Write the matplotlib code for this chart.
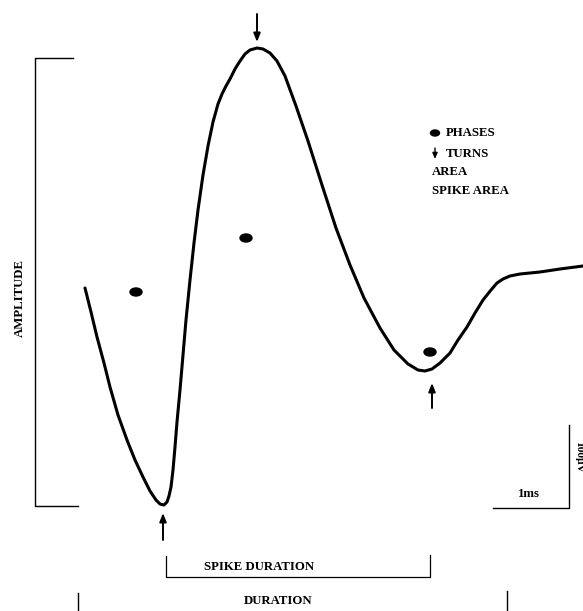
import matplotlib
matplotlib.use("Agg")
import matplotlib.pyplot as plt
from matplotlib.patches import Ellipse

# Motor unit action potential trace (x: time-ish position, y: screen height, downward)
trace_x = [85, 91, 97, 104, 110, 118, 127, 135, 143, 150, 156, 160, 164, 167, 169, 171,
           173, 175, 177, 180, 183, 186, 190, 194, 198, 203, 208, 213, 218, 222, 226,
           230, 235, 240, 245, 250, 257, 263, 270, 277, 285, 296, 308, 322, 336, 350,
           364, 380, 394, 408, 418, 425, 432, 440, 450, 458, 467, 475, 483, 491, 497,
           503, 510, 520, 540, 560, 583]
trace_y = [288, 312, 337, 363, 387, 415, 440, 460, 477, 491, 500, 504, 505, 502, 496, 487,
           470, 447, 422, 390, 355, 320, 280, 243, 210, 175, 146, 122, 104, 94, 86,
           79, 69, 61, 54, 50, 48, 49, 53, 61, 76, 106, 141, 185, 228, 265,
           298, 328, 350, 364, 370, 371, 369, 363, 353, 340, 327, 313, 300, 290, 283,
           279, 276, 274, 272, 269, 266]

# Phase markers
phase_x = [136, 246, 430]
phase_y = [292, 238, 352]

# Turn arrows: (x, tail_y, head_y)
turn_x = [257, 163, 432]
turn_tail = [14, 540, 408]
turn_head = [42, 513, 383]

legend_labels = ["PHASES", "TURNS", "AREA", "SPIKE AREA"]

W, H = 583, 611
fig = plt.figure(figsize=(W / 100, H / 100), dpi=100)
ax = fig.add_axes([0, 0, 1, 1])
ax.set_xlim(0, W)
ax.set_ylim(H, 0)
ax.axis("off")

serif = ["Liberation Serif", "DejaVu Serif"]
fs = 9.2

ax.plot(trace_x, trace_y, color="black", lw=2.2, solid_capstyle="round",
        solid_joinstyle="round")

for x, y in zip(phase_x, phase_y):
    ax.add_patch(Ellipse((x, y), 12, 8, color="black"))

for x, t, h in zip(turn_x, turn_tail, turn_head):
    ax.annotate("", xy=(x, h), xytext=(x, t),
                arrowprops=dict(arrowstyle="-|>,head_length=0.5,head_width=0.2",
                                color="black", lw=1.4, shrinkA=0, shrinkB=0))

# Amplitude bracket
ax.plot([73, 35, 35, 78], [58, 58, 506, 506], color="black", lw=1.0)
ax.text(20, 298, "AMPLITUDE", rotation=90, ha="center", va="center",
        fontsize=fs, fontweight="bold", family=serif)

# Spike duration bracket
ax.plot([166, 166, 430, 430], [556, 577, 577, 555], color="black", lw=0.9)
ax.text(259, 567, "SPIKE DURATION", ha="center", va="center",
        fontsize=fs, fontweight="bold", family=serif)

# Duration markers
ax.plot([78, 78], [593, 611], color="black", lw=1.0)
ax.plot([507, 507], [591, 611], color="black", lw=1.0)
ax.text(278, 601, "DURATION", ha="center", va="center",
        fontsize=fs, fontweight="bold", family=serif)

# Legend
ax.add_patch(Ellipse((435, 133), 9, 6, color="black"))
ax.annotate("", xy=(435, 159), xytext=(435, 148),
            arrowprops=dict(arrowstyle="-|>,head_length=0.35,head_width=0.15",
                            color="black", lw=1.0, shrinkA=0, shrinkB=0))
legend_pos = [(446, 133), (446, 154), (432, 172), (432, 191)]
for (x, y), lab in zip(legend_pos, legend_labels):
    ax.text(x, y, lab, ha="left", va="center", fontsize=fs,
            fontweight="bold", family=serif)

# Scale bar
ax.plot([493, 569, 569], [508, 508, 425], color="black", lw=1.0)
ax.text(529, 494, "1ms", ha="center", va="center", fontsize=fs,
        fontweight="bold", family=serif)
ax.text(579, 457, "100µV", rotation=270, ha="center", va="center",
        fontsize=fs - 1, fontweight="bold", family=serif)

fig.savefig("out.png", dpi=100, facecolor="white")
